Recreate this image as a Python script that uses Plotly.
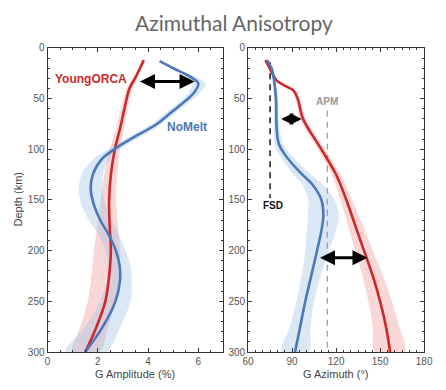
import plotly.graph_objects as go

# ---- G amplitude profiles (%) ----
amp_depth_young = [12, 20, 30, 40, 60, 80, 100, 125, 150, 175, 200, 225, 250, 275, 300]
amp_young = [3.83, 3.68, 3.48, 3.26, 3.06, 2.88, 2.68, 2.52, 2.45, 2.47, 2.52, 2.45, 2.30, 1.95, 1.50]
amp_young_lo = [3.78, 3.62, 3.40, 3.15, 2.92, 2.72, 2.48, 2.25, 2.12, 1.98, 1.85, 1.75, 1.60, 1.30, 1.00]
amp_young_hi = [3.88, 3.74, 3.56, 3.38, 3.20, 3.04, 2.88, 2.78, 2.72, 2.80, 2.88, 2.85, 2.70, 2.40, 2.05]

amp_depth_nomelt = [13, 20, 28, 35, 45, 55, 65, 75, 90, 100, 110, 125, 140, 155, 170, 185, 200, 215, 230, 250, 275, 300]
amp_nomelt = [4.46, 5.0, 5.65, 6.0, 5.8, 5.35, 4.85, 4.35, 3.3, 2.65, 2.15, 1.8, 1.72, 1.85, 2.1, 2.45, 2.72, 2.87, 2.88, 2.7, 2.2, 1.5]
amp_nomelt_lo = [4.4, 4.9, 5.45, 5.75, 5.6, 5.15, 4.65, 4.15, 3.05, 2.4, 1.8, 1.35, 1.25, 1.35, 1.65, 2.05, 2.3, 2.4, 2.35, 2.1, 1.5, 0.7]
amp_nomelt_hi = [4.52, 5.1, 5.85, 6.3, 6.05, 5.55, 5.05, 4.55, 3.55, 2.9, 2.45, 2.2, 2.2, 2.3, 2.55, 2.85, 3.1, 3.3, 3.35, 3.3, 2.9, 2.3]

# ---- G azimuth profiles (degrees) ----
az_depth_young = [12, 18, 25, 32, 38, 42, 50, 70, 100, 125, 150, 175, 200, 225, 250, 275, 300]
az_young = [71.8, 74, 76.5, 79.5, 86, 91, 93.8, 97.5, 110, 120, 127, 133, 139, 145, 150, 154, 156.8]
az_young_half = [1, 1, 1, 1, 1.5, 1.5, 1.5, 2, 2.5, 3, 4, 5, 6, 7, 8, 9, 10]

az_depth_nomelt = [12, 20, 30, 50, 80, 95, 105, 115, 125, 135, 150, 165, 180, 200, 225, 250, 275, 300]
az_nomelt = [72.9, 76, 77.5, 79, 79.5, 81, 85, 90.5, 97, 104, 110, 111.3, 110, 107, 103, 99, 95.5, 92]
az_nomelt_half = [1, 1, 1, 1.5, 2, 3, 4, 5, 6, 7, 9, 10.5, 10, 8, 6.5, 6, 7, 9]

# reference directions
fsd_azimuth = 75
fsd_depths = [14, 148]
apm_azimuth = 114
apm_depths = [62, 300]

RED = "#cc2a2a"
BLUE = "#4a78b8"
RED_BAND = "rgba(240,140,140,0.35)"
BLUE_BAND = "rgba(150,185,225,0.35)"


def band(depth, lo, hi, color, xaxis, yaxis):
    return go.Scatter(
        x=list(lo) + list(hi)[::-1], y=list(depth) + list(depth)[::-1],
        mode="lines", line=dict(width=0, shape="spline"), fill="toself",
        fillcolor=color, hoverinfo="skip", showlegend=False,
        xaxis=xaxis, yaxis=yaxis)


def profile(x, depth, color, xaxis, yaxis):
    return go.Scatter(x=x, y=depth, mode="lines",
                      line=dict(color=color, width=2.6, shape="spline"),
                      showlegend=False, xaxis=xaxis, yaxis=yaxis)


fig = go.Figure()
fig.add_trace(band(amp_depth_young, amp_young_lo, amp_young_hi, RED_BAND, "x", "y"))
fig.add_trace(band(amp_depth_nomelt, amp_nomelt_lo, amp_nomelt_hi, BLUE_BAND, "x", "y"))
fig.add_trace(profile(amp_young, amp_depth_young, RED, "x", "y"))
fig.add_trace(profile(amp_nomelt, amp_depth_nomelt, BLUE, "x", "y"))

fig.add_trace(band(az_depth_young, [a - h for a, h in zip(az_young, az_young_half)],
                   [a + h for a, h in zip(az_young, az_young_half)], RED_BAND, "x2", "y2"))
fig.add_trace(band(az_depth_nomelt, [a - h for a, h in zip(az_nomelt, az_nomelt_half)],
                   [a + h for a, h in zip(az_nomelt, az_nomelt_half)], BLUE_BAND, "x2", "y2"))
fig.add_trace(go.Scatter(x=[fsd_azimuth] * 2, y=fsd_depths, mode="lines",
                         line=dict(color="#222", width=1.6, dash="6px,5px"),
                         showlegend=False, xaxis="x2", yaxis="y2"))
fig.add_trace(go.Scatter(x=[apm_azimuth] * 2, y=apm_depths, mode="lines",
                         line=dict(color="#999", width=1.2, dash="6px,5px"),
                         showlegend=False, xaxis="x2", yaxis="y2"))
fig.add_trace(profile(az_young, az_depth_young, RED, "x2", "y2"))
fig.add_trace(profile(az_nomelt, az_depth_nomelt, BLUE, "x2", "y2"))

tickfont = dict(family="Liberation Sans, Arial", size=10, color="#555")
axis_common = dict(showline=True, linecolor="#333", linewidth=1, mirror="allticks",
                   ticks="inside", ticklen=4, tickcolor="#333", showgrid=False,
                   zeroline=False, tickfont=tickfont)

Y0, Y1 = 1 - 357 / 390, 1 - 43.3 / 390
fig.update_layout(
    width=446, height=390, margin=dict(l=0, r=0, t=0, b=0),
    paper_bgcolor="white", plot_bgcolor="white",
    xaxis=dict(domain=[43 / 446, 225 / 446], range=[0, 7], tickvals=[0, 2, 4, 6],
               minor=dict(dtick=0.5, ticks="inside", ticklen=2, tickcolor="#333"),
               anchor="y", **axis_common),
    yaxis=dict(domain=[Y0, Y1], range=[300, 0], dtick=50,
               minor=dict(dtick=10, ticks="inside", ticklen=2, tickcolor="#333"),
               anchor="x", **axis_common),
    xaxis2=dict(domain=[250.5 / 446, 432.7 / 446], range=[60, 180], dtick=30,
                minor=dict(dtick=5, ticks="inside", ticklen=2, tickcolor="#333"),
                anchor="y2", **axis_common),
    yaxis2=dict(domain=[Y0, Y1], range=[300, 0], dtick=50,
                minor=dict(dtick=10, ticks="inside", ticklen=2, tickcolor="#333"),
                anchor="x2", **axis_common),
)

label_font = dict(family="Liberation Sans, Arial", size=11, color="#444")


def paper_text(text, px, py, font, angle=0):
    return dict(text=text, x=px / 446, y=1 - py / 390, xref="paper", yref="paper",
                xanchor="center", yanchor="middle", showarrow=False,
                textangle=angle, font=font)


ann = [
    paper_text("Azimuthal Anisotropy", 236, 17,
               dict(family="Lato, Open Sans", size=21, color="#666")),
    paper_text("Depth (km)", 12, 200, label_font, angle=-90),
    paper_text("G Amplitude (%)", 134, 380, label_font),
    paper_text("G Azimuth (°)", 341, 380, label_font),
    dict(text="<b>YoungORCA</b>", x=1.71, y=31, xref="x", yref="y", showarrow=False,
         xanchor="center", yanchor="middle",
         font=dict(family="Liberation Sans, Arial", size=12, color=RED)),
    dict(text="<b>NoMelt</b>", x=5.56, y=78, xref="x", yref="y", showarrow=False,
         xanchor="center", yanchor="middle",
         font=dict(family="Liberation Sans, Arial", size=12, color=BLUE)),
    dict(text="<b>FSD</b>", x=77, y=155, xref="x2", yref="y2", showarrow=False,
         xanchor="center", yanchor="middle",
         font=dict(family="Liberation Sans, Arial", size=10, color="#111")),
    dict(text="<b>APM</b>", x=apm_azimuth, y=53, xref="x2", yref="y2", showarrow=False,
         xanchor="center", yanchor="middle",
         font=dict(family="Liberation Sans, Arial", size=10, color="#999")),
]

# double-headed difference arrows
arrows = [("x", "y", 3.62, 5.85, 33, 1.0), ("x2", "y2", 81.6, 96.6, 70, 0.8),
          ("x2", "y2", 108, 141.4, 207, 1.0)]
for xr, yr, xa, xb, d, hs in arrows:
    ann.append(dict(x=xb, y=d, ax=xa, ay=d, xref=xr, yref=yr, axref=xr, ayref=yr,
                    text="", showarrow=True, arrowhead=2, startarrowhead=2,
                    arrowside="end+start", arrowsize=hs, startarrowsize=hs,
                    arrowwidth=3, arrowcolor="black"))
fig.update_layout(annotations=ann)

fig.write_html("out.html")
